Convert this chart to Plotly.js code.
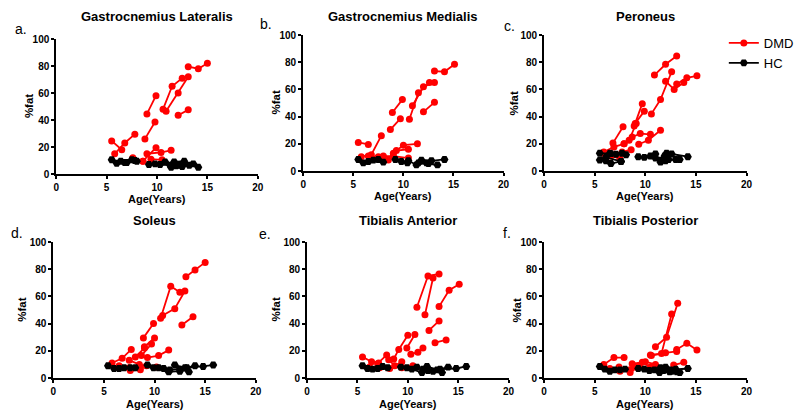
<!DOCTYPE html>
<html>
<head>
<meta charset="utf-8">
<script src="https://cdn.plot.ly/plotly-3.0.1.min.js"></script>
<style>html,body{margin:0;padding:0;background:#fff;}#chart{width:799px;height:411px;}</style>
</head>
<body>
<div id="chart"></div>
<script>
// ---------- DATA (each inner list = one subject, followed over time) ----------
const panelNames = ['Gastrocnemius Lateralis', 'Gastrocnemius Medialis', 'Peroneus', 'Soleus', 'Tibialis Anterior', 'Tibialis Posterior'];
const panelLetters = ['a.', 'b.', 'c.', 'd.', 'e.', 'f.'];
const seriesNames = ['DMD', 'HC'];
const xAxisTitle = 'Age(Years)';
const yAxisTitle = '%fat';
const xTickVals = [0, 5, 10, 15, 20];
const yTickVals = [0, 20, 40, 60, 80, 100];

// a. Gastrocnemius Lateralis
const glDmdAge = [[5.5,6.5],[5.8,6.8,7.8],[8.8,9.8],[9.0,9.9],[10.6,11.5,12.5],[10.9,12.1,13.1],[12.1,13.1],[13.1,14.1,15.0],[7.6,8.6],[8.6,9.9],[9.0,10.4,11.4],[9.4,10.5]];
const glDmdFat = [[24.5,18],[15,23,29.5],[26,38.5],[44.5,58],[48,65,71],[46.5,60,72],[43.5,47.5],[79.5,78,82],[12,9.5],[9.5,19.5],[15,16,17.5],[11,10.5]];
const glHcAge = [[5.5,6.0,7.0],[6.4,7.5,8.0],[6.8,7.8],[9.2,9.8,10.8],[10.3,11.3],[11.4,12.2,13.6],[11.7,12.7,14.1],[11.9,12.5,13.2]];
const glHcFat = [[10.5,8,8.5],[9.5,10.5,9.5],[8.5,10],[7,7.5,9],[7,6.5],[5,6.5,7.5],[9,9.5,5],[6,5.5,6.5]];

// b. Gastrocnemius Medialis
const gmDmdAge = [[5.5,6.5],[5.8,6.8,7.8],[8.7,9.7],[8.9,9.9],[10.6,11.5,12.6],[10.9,12.0,13.1],[12.0,13.1],[13.1,14.1,15.1],[9.0,10.0,11.4],[9.3,10.5],[6.5,7.5,8.5],[8.0,9.0,10.5]];
const gmDmdFat = [[21,19.5],[10.5,12,26],[30.5,38.5],[43,52.5],[38,57.5,65],[48,62,65],[43.5,50.5],[73.5,73,78.5],[13,19,20],[15,16],[11,10.5,8],[11,11,9.5]];
const gmHcAge = [[5.5,6.0,7.0],[6.5,7.5,8.0],[9.2,9.8,10.4],[10.5,11.3,12.3],[11.8,12.8,14.1],[11.5,12.5,13.4]];
const gmHcFat = [[8.5,6,8],[7,8.5,6.5],[8.5,7,6],[7.5,4.5,6],[8,7.5,8.5],[6,5.5,4.5]];

// c. Peroneus
const peDmdAge = [[10.9,12.0,13.1],[10.6,11.5,12.6],[12.0,12.85,13.8],[13.1,14.1,15.1],[8.9,9.7],[9.0,9.9],[6.8,7.8],[8.7,9.5,10.5],[9.35,10.3,11.5],[7.9,8.4,9.1],[5.9,6.9,7.9],[5.8,6.6,7.5],[7.7,8.6]];
const peDmdFat = [[70.5,78.5,84.5],[42,52.5,73],[66,60,65],[64,68.5,70],[33,49.5],[35,44],[20.5,32.5],[25,27.5,27],[19.7,22.6,30],[20,22.6,35],[14,17.7,20],[13,11,9],[14,15.7]];
const peHcAge = [[5.5,6.6,7.7],[5.5,6.1,7.6],[6.1,6.6,7.6],[6.5,7.1,8.1],[9.3,9.9,11.0],[10.5,11.5,12.3],[11.5,12.1,13.4],[11.9,12.6,14.2],[11.0,12.0,13.0]];
const peHcFat = [[13,12.8,13],[8,10,7],[7.5,5.5,7],[13,12.3,12],[10.5,10,12.5],[11,8,8.5],[6.5,13,8.5],[11,12.5,10.5],[9.5,7.5,8.5]];

// d. Soleus
const soDmdAge = [[13.1,14.0,15.0],[10.6,11.6,12.5],[10.8,12.0,13.0],[12.7,13.8],[8.9,9.9],[9.0,10.0],[8.7,9.7],[9.3,10.4,11.4],[5.8,6.8,7.7],[8.1,9.0],[7.5,8.5],[7.6,8.6],[6.5,7.5,8.6],[9.2,10.2]];
const soDmdFat = [[74.5,79.5,85],[44,67.5,63],[46,51,64],[39,45],[29.5,40],[23,29.5],[16.5,25],[15,16.5,20.5],[11,14.5,21],[15.5,22],[13,10],[5.5,6],[9,7.5,8],[9,8]];
const soHcAge = [[5.4,6.0,7.0],[6.5,7.6,8.1],[9.3,9.9,10.9],[10.4,11.4,12.5],[12.0,13.0,14.0],[11.5,12.5,13.4],[13.2,14.8,15.8]];
const soHcFat = [[9,7,7.5],[7,7.5,7.5],[9.5,7.5,7],[7.5,4.5,5],[9.5,7.5,9],[6,6.5,4.5],[7.5,8.5,9.5]];

// e. Tibialis Anterior
const taDmdAge = [[10.9,12.0,13.1],[11.7,12.5],[13.1,14.1,15.1],[12.1,13.1],[12.7,13.8],[8.6,9.1,10.0],[9.9,10.7],[10.3,11.0,11.5],[5.5,6.4,7.1],[7.0,7.9],[8.1,8.7,9.4],[6.2,7.2,8.2],[9.4,10.5]];
const taDmdFat = [[52,75,76.5],[46.5,73.5],[52.5,64.5,69],[35,42],[26,28],[14,21,31.5],[22,32],[17.5,19,22],[15.5,12,11],[10.5,17],[13.5,9,12],[8,7.5,7],[7.5,9]];
const taHcAge = [[5.5,6.0,7.0],[6.5,7.5,8.0],[9.3,9.9,10.9],[10.4,11.4,12.0],[11.9,12.9,14.0],[11.5,12.5,13.4],[13.2,14.8,15.8]];
const taHcFat = [[9,7,7],[6.5,8.5,7.5],[8,7.5,8],[6.5,4,5.5],[8.5,6,8],[6.5,5,4],[6.5,7,8.5]];

// f. Tibialis Posterior
const tpDmdAge = [[11.0,12.1,13.2],[10.5,11.6,12.6],[13.1,14.1,15.1],[10.6,12.0,13.1],[5.9,6.9,7.9],[12.8,13.8],[8.7,9.7,10.5],[6.5,7.5,8.5],[9.0,10.0,11.0],[7.4,8.5,9.4]];
const tpDmdFat = [[23,30,55],[17,18,47],[21,25.5,20.5],[16.5,18.5,19.5],[10,15,15],[9.5,11.5],[10.5,11.5,8],[7,5,6],[8,12,10],[8,4,9]];
const tpHcAge = [[5.5,6.0,7.0],[6.5,7.5,8.0],[9.3,9.9,10.9],[10.4,11.4,12.4],[11.5,12.5,13.4],[11.8,13.0,14.2],[12.0,12.6,13.1]];
const tpHcFat = [[8.5,6.5,6],[5,6,6.5],[7,6.5,6],[5.5,4,4.5],[7.5,6,4],[5.5,6.5,7],[8,5,4.5]];

// ---------- BUILD ----------
const dmdAge = [glDmdAge, gmDmdAge, peDmdAge, soDmdAge, taDmdAge, tpDmdAge];
const dmdFat = [glDmdFat, gmDmdFat, peDmdFat, soDmdFat, taDmdFat, tpDmdFat];
const hcAge = [glHcAge, gmHcAge, peHcAge, soHcAge, taHcAge, tpHcAge];
const hcFat = [glHcFat, gmHcFat, peHcFat, soHcFat, taHcFat, tpHcFat];

function joinSubjects(list) {
  const out = [];
  list.forEach((s, k) => { if (k > 0) out.push(null); s.forEach(v => out.push(v)); });
  return out;
}

const W = 799, H = 411;
// pixel boxes [left, right, top, bottom]
const boxes = [
  [57, 261, 39, 174],
  [307, 510, 35, 171],
  [551, 756, 35, 171],
  [54, 259, 242, 378],
  [311, 515, 242, 378],
  [551, 756, 242, 378]
];
// axis-title pixel anchors: [yTitleX, xTitleY]
const titleAnchors = [[30, 199], [279, 196], [521, 196], [22, 403.5], [279, 403.5], [524, 403.5]];

const FONT = 'Liberation Sans, Arial, sans-serif';
const traces = [];
const layout = {
  width: W, height: H,
  margin: {l: 0, r: 0, t: 0, b: 0},
  paper_bgcolor: '#ffffff', plot_bgcolor: 'rgba(0,0,0,0)',
  font: {family: FONT, color: '#000'},
  showlegend: true,
  legend: {x: 733 / W, y: 1 - 28 / H, xanchor: 'left', yanchor: 'top', bgcolor: 'rgba(0,0,0,0)',
           font: {family: FONT, size: 13, color: '#000'}, tracegroupgap: 0, itemwidth: 30},
  annotations: []
};

for (let i = 0; i < 6; i++) {
  const sfx = i === 0 ? '' : String(i + 1);
  const b = boxes[i];
  traces.push({
    type: 'scatter', mode: 'lines+markers', name: seriesNames[0], legendgroup: 'DMD', showlegend: i === 0,
    x: joinSubjects(dmdAge[i]), y: joinSubjects(dmdFat[i]), connectgaps: false,
    xaxis: 'x' + sfx, yaxis: 'y' + sfx,
    line: {color: '#ff0000', width: 1.8}, marker: {color: '#ff0000', size: 7, symbol: 'circle'},
    cliponaxis: false
  });
  traces.push({
    type: 'scatter', mode: 'lines+markers', name: seriesNames[1], legendgroup: 'HC', showlegend: i === 0,
    x: joinSubjects(hcAge[i]), y: joinSubjects(hcFat[i]), connectgaps: false,
    xaxis: 'x' + sfx, yaxis: 'y' + sfx,
    line: {color: '#000000', width: 1.8}, marker: {color: '#000000', size: 8, symbol: 'hexagon2'},
    cliponaxis: false
  });
  const axCommon = {
    showgrid: false, zeroline: false, showline: true, linecolor: '#000', linewidth: 2,
    ticks: 'outside', ticklen: 3, tickwidth: 2, tickcolor: '#000',
    tickfont: {family: FONT, size: 10, weight: 'bold', color: '#000'},
    fixedrange: true
  };
  layout['xaxis' + sfx] = Object.assign({}, axCommon, {
    domain: [b[0] / W, b[1] / W], anchor: 'y' + sfx, range: [0, 20],
    tickvals: xTickVals, ticktext: xTickVals.map(String)
  });
  layout['yaxis' + sfx] = Object.assign({}, axCommon, {
    domain: [1 - b[3] / H, 1 - b[2] / H], anchor: 'x' + sfx, range: [0, 100],
    tickvals: yTickVals, ticktext: yTickVals.map(String)
  });
  const titleY = i < 3 ? 17 : 220.5;
  layout.annotations.push({
    xref: 'paper', yref: 'paper', x: (b[0] + b[1]) / 2 / W, y: 1 - titleY / H,
    xanchor: 'center', yanchor: 'middle', showarrow: false,
    text: panelNames[i], font: {family: FONT, size: 13, weight: 'bold', color: '#000'}
  });
  const ta = titleAnchors[i];
  layout.annotations.push({
    xref: 'paper', yref: 'paper', x: (b[0] + b[1]) / 2 / W, y: 1 - ta[1] / H,
    xanchor: 'center', yanchor: 'middle', showarrow: false,
    text: xAxisTitle, font: {family: FONT, size: 11, weight: 'bold', color: '#000'}
  });
  layout.annotations.push({
    xref: 'paper', yref: 'paper', x: ta[0] / W, y: 1 - (b[2] + b[3]) / 2 / H,
    xanchor: 'center', yanchor: 'middle', showarrow: false, textangle: -90,
    text: yAxisTitle, font: {family: FONT, size: 11.5, weight: 'bold', color: '#000'}
  });
}
const letterPos = [[21, 29], [269, 24.5], [516, 26.5], [17.5, 232.5], [268, 233.5], [513, 232.5]];
letterPos.forEach((p, i) => {
  layout.annotations.push({
    xref: 'paper', yref: 'paper', x: p[0] / W, y: 1 - p[1] / H,
    xanchor: 'center', yanchor: 'middle', showarrow: false,
    text: panelLetters[i], font: {family: FONT, size: 14, color: '#000'}
  });
});

Plotly.newPlot('chart', traces, layout, {displayModeBar: false, staticPlot: true});
</script>
</body>
</html>
